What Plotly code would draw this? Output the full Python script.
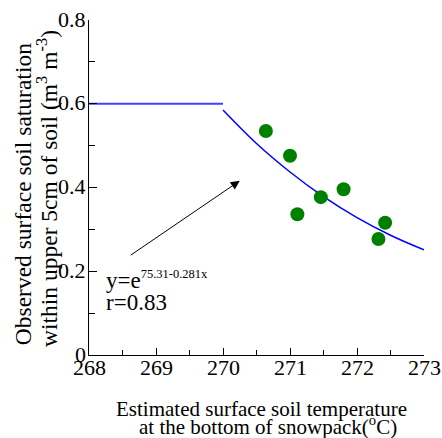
import plotly.graph_objects as go

# Observed points
obs_x = [270.64, 271.00, 271.11, 271.46, 271.80, 272.42, 272.32]
obs_y = [0.535, 0.476, 0.336, 0.377, 0.396, 0.316, 0.277]

# Plateau line
flat_x = [268, 270]
flat_y = [0.6, 0.6]

# Fitted curve
fit_x = [270.0, 270.5, 271.0, 271.5, 272.0, 272.5, 273.0]
fit_y = [0.585, 0.505, 0.437, 0.378, 0.328, 0.286, 0.251]

x_ticks = [268, 269, 270, 271, 272, 273]
x_tick_labels = ["268", "269", "270", "271", "272", "273"]
y_ticks = [0, 0.2, 0.4, 0.6, 0.8]
y_tick_labels = ["0", "0.2", "0.4", "0.6", "0.8"]

x_title_lines = ["Estimated surface soil temperature",
                 "at the bottom of snowpack(<sup>o</sup>C)"]
y_title_lines = ["Observed surface soil saturation",
                 "within upper 5cm of soil (m<sup>3</sup> m<sup>-3</sup>)"]

serif = "Liberation Serif, Times New Roman, serif"

fig = go.Figure()
fig.add_trace(go.Scatter(x=flat_x, y=flat_y, mode="lines",
                         line=dict(color="#4040ff", width=2), showlegend=False))
fig.add_trace(go.Scatter(x=fit_x, y=fit_y, mode="lines", line_shape="spline",
                         line=dict(color="#0000ff", width=1.5), showlegend=False))
fig.add_trace(go.Scatter(x=obs_x, y=obs_y, mode="markers",
                         marker=dict(color="#008000", size=14), showlegend=False))

fig.add_annotation(x=270.25, y=0.416, ax=268.60, ay=0.236, xref="x", yref="y",
                   axref="x", ayref="y", showarrow=True, arrowhead=2,
                   arrowsize=1.8, arrowwidth=1, arrowcolor="black", text="")
fig.add_annotation(x=268.22, y=0.18, xref="x", yref="y", xanchor="left",
                   yanchor="middle", showarrow=False,
                   text="y=e<sup><span style='font-size:12.5px'>75.31-0.281x</span></sup>",
                   font=dict(family=serif, size=23, color="black"))
fig.add_annotation(x=268.22, y=0.125, xref="x", yref="y", xanchor="left",
                   yanchor="middle", showarrow=False, text="r=0.83",
                   font=dict(family=serif, size=23, color="black"))

# Tick labels (drawn as annotations on the axes' scales so the serif font is kept)
for v, lab in zip(x_ticks, x_tick_labels):
    fig.add_annotation(x=v, y=0, xref="x", yref="paper", xanchor="center",
                       yanchor="middle", yshift=-12, showarrow=False, text=lab,
                       font=dict(family=serif, size=22, color="black"))
for v, lab in zip(y_ticks, y_tick_labels):
    fig.add_annotation(x=0, y=v, xref="paper", yref="y", xanchor="right",
                       yanchor="middle", xshift=-1, yshift=1, showarrow=False, text=lab,
                       font=dict(family=serif, size=22, color="black"))

# Axis titles (one annotation per line to control spacing)
for txt, xp, yp in zip(x_title_lines, [0.516, 0.535], [-0.162, -0.21]):
    fig.add_annotation(x=xp, y=yp, xref="paper", yref="paper", xanchor="center",
                       yanchor="middle", showarrow=False, text=txt,
                       font=dict(family=serif, size=21, color="black"))
for txt, xp, yp in zip(y_title_lines, [-0.197, -0.125], [0.48, 0.496]):
    fig.add_annotation(x=xp, y=yp, xref="paper", yref="paper", xanchor="center",
                       yanchor="middle", showarrow=False, textangle=-90, text=txt,
                       font=dict(family=serif, size=23.5, color="black"))

fig.update_layout(
    width=442, height=438,
    margin=dict(l=89, r=18, t=20, b=83, autoexpand=False),
    plot_bgcolor="white", paper_bgcolor="white",
    font=dict(family=serif, size=22, color="black"),
    xaxis=dict(range=[268, 273], tickvals=x_ticks, showticklabels=False,
               ticks="inside", ticklen=7,
               tickcolor="black", showline=True, linecolor="black", linewidth=1,
               showgrid=False, zeroline=False, automargin=False,
               minor=dict(dtick=0.5, ticks="inside", ticklen=5, tickcolor="black")),
    yaxis=dict(range=[0, 0.8], tickvals=y_ticks, showticklabels=False,
               ticks="inside", ticklen=8, tickcolor="black", showline=True,
               linecolor="black", linewidth=1, showgrid=False, zeroline=False,
               automargin=False,
               minor=dict(dtick=0.1, ticks="inside", ticklen=6, tickcolor="black")),
)

fig.write_html("out.html", config={"displayModeBar": False},
               post_script="document.body.style.margin='0px';document.body.style.padding='0px';")
